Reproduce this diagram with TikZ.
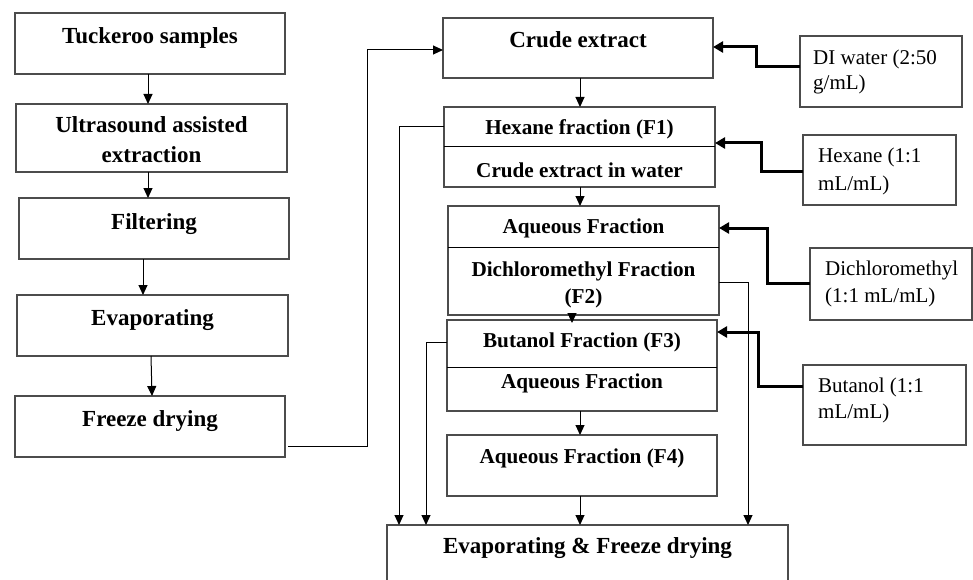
\documentclass[tikz,border=0pt]{standalone}
\usepackage{fontspec}
\setmainfont{Liberation Serif}
\usetikzlibrary{arrows.meta}
\tikzset{
 box/.style={draw=black!70, line width=1.1pt, inner sep=0pt, outer sep=0pt, rectangle},
 bt/.style={font=\fontsize{23}{27}\selectfont\bfseries, inner sep=0pt, anchor=base},
 mt/.style={font=\fontsize{21.2}{25}\selectfont\bfseries, inner sep=0pt, anchor=base},
 rt/.style={font=\fontsize{21}{25}\selectfont, inner sep=0pt, anchor=base west},
 conn/.style={draw=black, line width=1pt},
 arr/.style={conn, -{Triangle[length=10pt,width=9pt]}},
 tharr/.style={draw=black, line width=3pt, -{Triangle[length=10pt,width=11pt]}},
 divl/.style={draw=black, line width=1pt},
}
\newcommand\mkbox[5]{\node[box, minimum width={#4-#2}, minimum height={#5-#3}] (#1) at ({(#2+#4)/2},{(#3+#5)/2}) {};}
\begin{document}
\begin{tikzpicture}[x=1pt,y=-1pt]
\useasboundingbox (0,0) rectangle (973,580);
\clip (0,0) rectangle (973,580);
\fill[white] (0,0) rectangle (973,580);
% left column
\mkbox{tuck}{15}{13}{285}{74}
\mkbox{ultra}{16}{104}{287}{172}
\mkbox{filt}{19}{198}{289}{259}
\mkbox{evap}{17}{295}{288}{356}
\mkbox{freeze}{15}{396}{285}{457}
\node[bt] (ttuck) at (150,44) {Tuckeroo samples};
\node[bt] (tultra1) at (151.5,133) {Ultrasound assisted};
\node[bt] (tultra2) at (151.5,162) {extraction};
\node[bt] (tfilt) at (154,229) {Filtering};
\node[bt] (tevap) at (152.5,325) {Evaporating};
\node[bt] (tfreeze) at (150,426) {Freeze drying};
% right column
\mkbox{crude}{443}{18}{713}{78}
\mkbox{hex}{444}{107}{715}{187}
\mkbox{aq}{448}{206}{719}{315}
\mkbox{but}{447}{320}{717}{411}
\mkbox{ffour}{447}{435}{717}{496}
\mkbox{final}{387}{525}{788}{600}
\draw[divl] (hex.west) -- (hex.east);
\draw[divl] ([yshift=13.5pt]aq.west) -- ([yshift=13.5pt]aq.east);
\draw[divl] ([yshift=-1.5pt]but.west) -- ([yshift=-1.5pt]but.east);
\node[bt] (tcrude) at (578,48) {Crude extract};
\node[mt] (thex1) at (579.5,135) {Hexane fraction (F1)};
\node[mt] (thex2) at (579.5,177) {Crude extract in water};
\node[mt] (taq1) at (583.5,233) {Aqueous Fraction};
\node[mt] (taq2) at (583.5,276) {Dichloromethyl Fraction};
\node[mt] (taq3) at (583.5,303) {(F2)};
\node[mt] (tbut1) at (582,347) {Butanol Fraction (F3)};
\node[mt] (tbut2) at (582,388) {Aqueous Fraction};
\node[mt] (tf4) at (582,463) {Aqueous Fraction (F4)};
\node[bt] (tfinal) at (587.5,553) {Evaporating \& Freeze drying};
% reagent boxes
\mkbox{di}{800}{36}{962}{107}
\mkbox{hexr}{803}{135}{956}{205}
\mkbox{dcm}{810}{248}{972}{320}
\mkbox{butr}{803}{365}{966}{445}
\node[rt] (tdi1) at (813,65) {DI water (2:50};
\node[rt] (tdi2) at (813,90) {g/mL)};
\node[rt] (thr1) at (818,163) {Hexane (1:1};
\node[rt] (thr2) at (818,190) {mL/mL)};
\node[rt] (tdc1) at (825,275) {Dichloromethyl};
\node[rt] (tdc2) at (825,302) {(1:1 mL/mL)};
\node[rt] (tbr1) at (818,392) {Butanol (1:1};
\node[rt] (tbr2) at (818,418) {mL/mL)};
% left column arrows
\draw[arr] ([xshift=-2pt]tuck.south) -- ([xshift=-3.5pt]ultra.north);
\draw[arr] ([xshift=-3.5pt]ultra.south) -- ([xshift=-6pt]filt.north);
\draw[arr] ([xshift=-11pt]filt.south) -- ([xshift=-9.5pt]evap.north);
\draw[arr] ([xshift=-1.5pt]evap.south) -- ([xshift=2pt]freeze.north);
% freeze -> crude
\draw[arr] ([xshift=3pt,yshift=-19.5pt]freeze.east) -- ++(79,0) |- ([yshift=-2pt]crude.west);
% right column arrows
\draw[arr] ([xshift=2pt]crude.south) -- ([xshift=0.5pt]hex.north);
\draw[arr] ([xshift=0.5pt]hex.south) -- ([xshift=-3.5pt]aq.north);
\draw[arr] ([xshift=-11.5pt,yshift=2pt]aq.south) -- ([xshift=-10pt,yshift=-3pt]but.north);
\draw[arr] ([xshift=-2pt]but.south) -- ([xshift=-2pt]ffour.north);
\draw[arr] ([xshift=-2pt]ffour.south) -- ([xshift=-7.5pt]final.north);
\draw[arr] ([yshift=20pt]hex.west) -| ([xshift=-188.5pt]final.north);
\draw[arr] ([yshift=23.5pt]but.west) -| ([xshift=-161.5pt]final.north);
\draw[arr] ([yshift=-21.5pt]aq.east) -| ([xshift=160.5pt]final.north);
% reagent arrows
\draw[tharr] ([yshift=4.5pt]di.west) -- ++(-44,0) |- ([yshift=1pt]crude.east);
\draw[tharr] ([yshift=-1pt]hexr.west) -- ++(-42,0) |- ([yshift=4pt]hex.east);
\draw[tharr] ([yshift=1pt]dcm.west) -- ++(-43,0) |- ([yshift=32.5pt]aq.east);
\draw[tharr] ([yshift=19pt]butr.west) -- ++(-45,0) |- ([yshift=33.5pt]but.east);
\end{tikzpicture}
\end{document}
